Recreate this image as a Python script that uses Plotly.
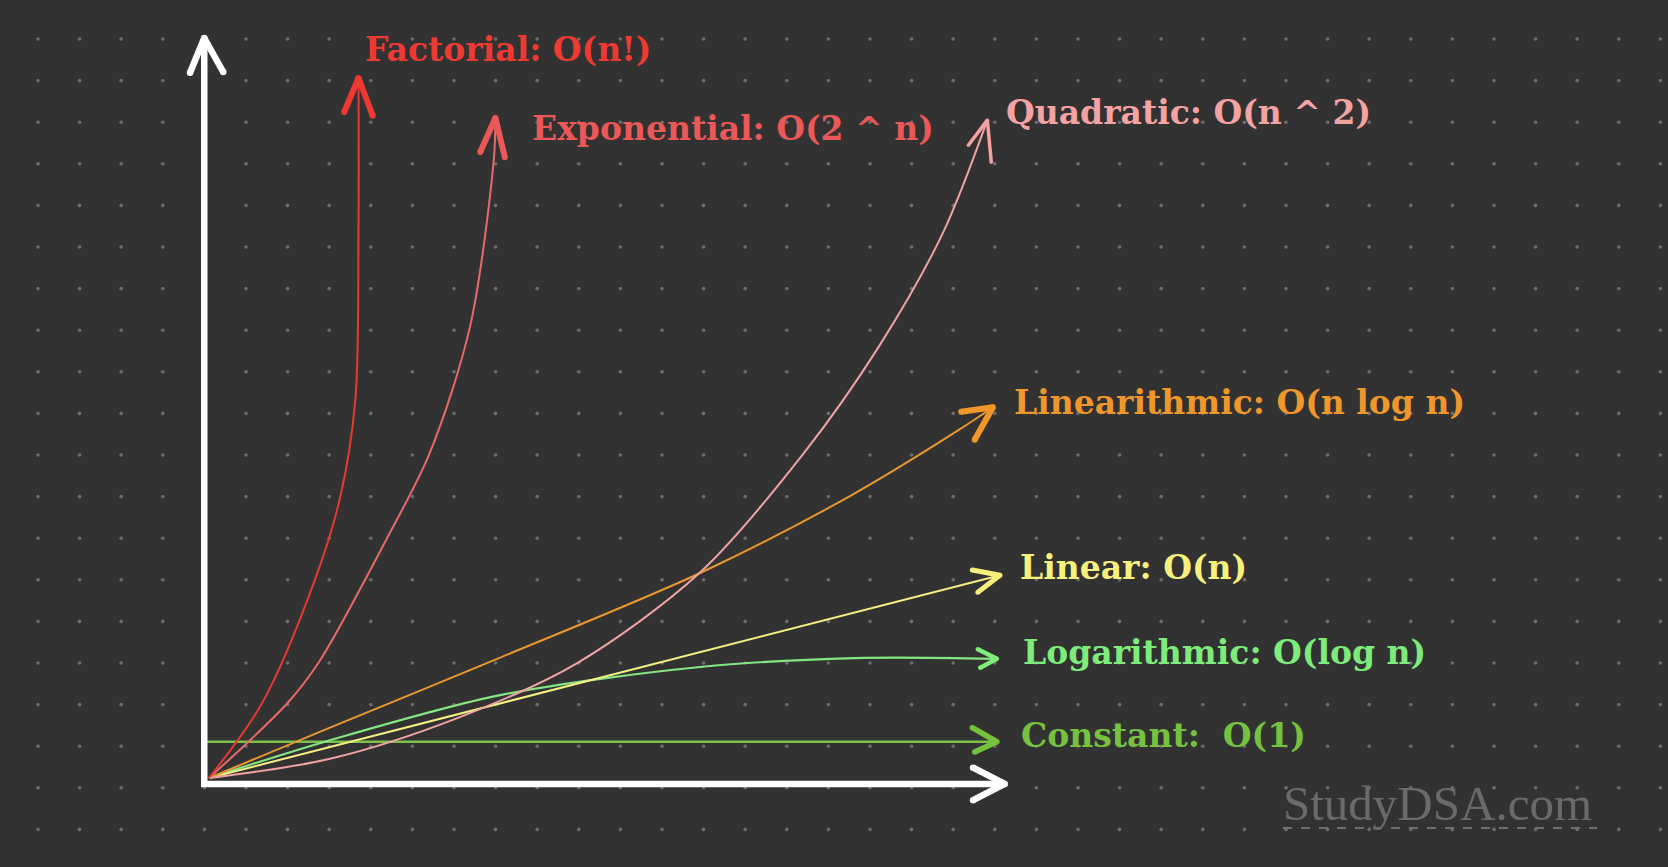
import numpy as np
import plotly.graph_objects as go

# ---------------- data ----------------
# n on the x axis (0..10), growth on the y axis (0..10); origin at the axis corner
factorial_x = [0, 0.67, 1.34, 1.66, 1.85, 1.89, 1.89]
factorial_y = [0, 1.01, 2.68, 3.80, 5.11, 7.45, 9.40]

exponential_x = [0, 0.99, 1.38, 2.25, 2.79, 3.30, 3.60, 3.62]
exponential_y = [0, 1.01, 1.55, 3.24, 4.39, 6.10, 8.35, 8.89]

quadratic_x = [0, 1.53, 3.14, 4.65, 6.21, 7.52, 8.48, 9.28, 9.84]
quadratic_y = [0, 0.26, 0.81, 1.55, 2.78, 4.39, 5.85, 7.37, 8.89]

linearithmic_x = [0, 1.53, 3.62, 6.23, 8.12, 9.46, 9.91]
linearithmic_y = [0, 0.68, 1.60, 2.78, 3.82, 4.69, 5.01]

linear_x = [0, 10.0]
linear_y = [0, 2.74]

logarithmic_x = [0, 1.53, 3.68, 6.21, 8.17, 9.96]
logarithmic_y = [0, 0.51, 1.12, 1.50, 1.62, 1.61]

constant_x = [-0.03, 9.96]
constant_y = [0.49, 0.49]

labels = ["Factorial: O(n!)", "Exponential: O(2 ^ n)", "Quadratic: O(n ^ 2)",
          "Linearithmic: O(n log n)", "Linear: O(n)", "Logarithmic: O(log n)",
          "Constant:  O(1)"]
label_x = [1.95, 4.06, 10.05, 10.15, 10.23, 10.27, 10.24]
label_y = [9.84, 8.78, 8.99, 5.08, 2.84, 1.70, 0.57]

# arrow heads: wing, tip, wing
head_factorial = ([1.71, 1.89, 2.07], [9.00, 9.46, 8.95])
head_exponential = ([3.43, 3.62, 3.74], [8.46, 8.92, 8.39])
head_quadratic = ([9.60, 9.84, 9.89], [8.55, 8.89, 8.32])
head_linearithmic = ([9.51, 9.91, 9.68], [4.95, 5.01, 4.57])
head_linear = ([9.65, 10.0, 9.72], [2.81, 2.74, 2.51])
head_logarithmic = ([9.72, 9.96, 9.75], [1.74, 1.61, 1.49])
head_constant = ([9.65, 9.96, 9.68], [0.68, 0.49, 0.35])

# axes (white arrows)
yaxis_line = ([-0.06, -0.06], [-0.12, 10.0])
yaxis_head = ([-0.24, -0.06, 0.18], [9.53, 10.0, 9.54])
xaxis_line = ([-0.10, 10.06], [-0.08, -0.08])
xaxis_head = ([9.66, 10.06, 9.66], [0.14, -0.08, -0.30])

watermark = "StudyDSA.com"

# ---------------- styling / layout ----------------
W, H = 1668, 867
BG = "#323232"
OX, OY = 209.0, 778.0      # pixel of the origin
SX, SY = 79.1, 74.0        # pixels per unit

def px_to_x(px):
    return (np.asarray(px, dtype=float) - OX) / SX

def py_to_y(py):
    return (OY - np.asarray(py, dtype=float)) / SY

colors = ["#ee3a32", "#ea5858", "#f5a2a2", "#f0972c", "#f7f07c", "#7eec7a", "#76c23e"]
line_colors = ["#e63a32", "#e66a6a", "#efa3a3", "#e9982f", "#f5ef86", "#86e482", "#7cc24a"]

fig = go.Figure()

# dotted background grid
gx = np.arange(38, W, 41.6)
gy = np.arange(39, H, 41.6)
GX, GY = np.meshgrid(gx, gy)
fig.add_trace(go.Scatter(x=px_to_x(GX.ravel()), y=py_to_y(GY.ravel()), mode="markers",
                         marker=dict(size=3.6, color="#6e6e6e"), hoverinfo="skip"))

curves = [
    (factorial_x, factorial_y, head_factorial, 2.0, 6),
    (exponential_x, exponential_y, head_exponential, 2.0, 6),
    (quadratic_x, quadratic_y, head_quadratic, 2.0, 3.5),
    (linearithmic_x, linearithmic_y, head_linearithmic, 2.0, 6),
    (linear_x, linear_y, head_linear, 2.0, 5),
    (logarithmic_x, logarithmic_y, head_logarithmic, 2.2, 4.5),
    (constant_x, constant_y, head_constant, 2.6, 5.5),
]
for i, (cx, cy, head, lw, hw) in enumerate(curves[::-1]):
    k = len(curves) - 1 - i
    fig.add_trace(go.Scatter(x=cx, y=cy, mode="lines", line=dict(color=line_colors[k], width=lw,
                             shape="spline", smoothing=0.9), hoverinfo="skip"))
    fig.add_trace(go.Scatter(x=head[0], y=head[1], mode="lines+markers",
                             line=dict(color=colors[k], width=hw),
                             marker=dict(size=hw, color=colors[k]), hoverinfo="skip"))

for (lx, ly) in [yaxis_line, yaxis_head, xaxis_line, xaxis_head]:
    fig.add_trace(go.Scatter(x=lx, y=ly, mode="lines", line=dict(color="#ffffff", width=6.5),
                             hoverinfo="skip"))
    fig.add_trace(go.Scatter(x=[lx[0], lx[-1]] if len(lx) == 3 else [lx[-1]],
                             y=[ly[0], ly[-1]] if len(ly) == 3 else [ly[-1]],
                             mode="markers", marker=dict(size=6.5, color="#ffffff"),
                             hoverinfo="skip"))

for txt, x, y, c in zip(labels, label_x, label_y, colors):
    fig.add_annotation(x=x, y=y, xref="x", yref="y", text=txt, showarrow=False,
                       xanchor="left", yanchor="middle",
                       font=dict(family="DejaVu Serif", size=33, color=c, weight=700))

fig.add_annotation(x=float(px_to_x(1281)), y=float(py_to_y(803)), xref="x", yref="y",
                   text=watermark, showarrow=False, xanchor="left", yanchor="middle",
                   font=dict(family="Liberation Serif", size=49, color="#6a6a6a"))
fig.add_shape(type="line", xref="x", yref="y",
              x0=float(px_to_x(1283)), x1=float(px_to_x(1597)),
              y0=float(py_to_y(828)), y1=float(py_to_y(828)),
              line=dict(color="#6e6e6e", width=2, dash="dash"))

fig.update_layout(
    width=W, height=H, margin=dict(l=0, r=0, t=0, b=0),
    paper_bgcolor=BG, plot_bgcolor=BG, showlegend=False,
    xaxis=dict(range=[float(px_to_x(0)), float(px_to_x(W))], visible=False, fixedrange=True),
    yaxis=dict(range=[float(py_to_y(H)), float(py_to_y(0))], visible=False, fixedrange=True),
)

fig.write_html("out.html", config={"displayModeBar": False},
               post_script="document.body.style.margin='0';document.body.style.overflow='hidden';")
